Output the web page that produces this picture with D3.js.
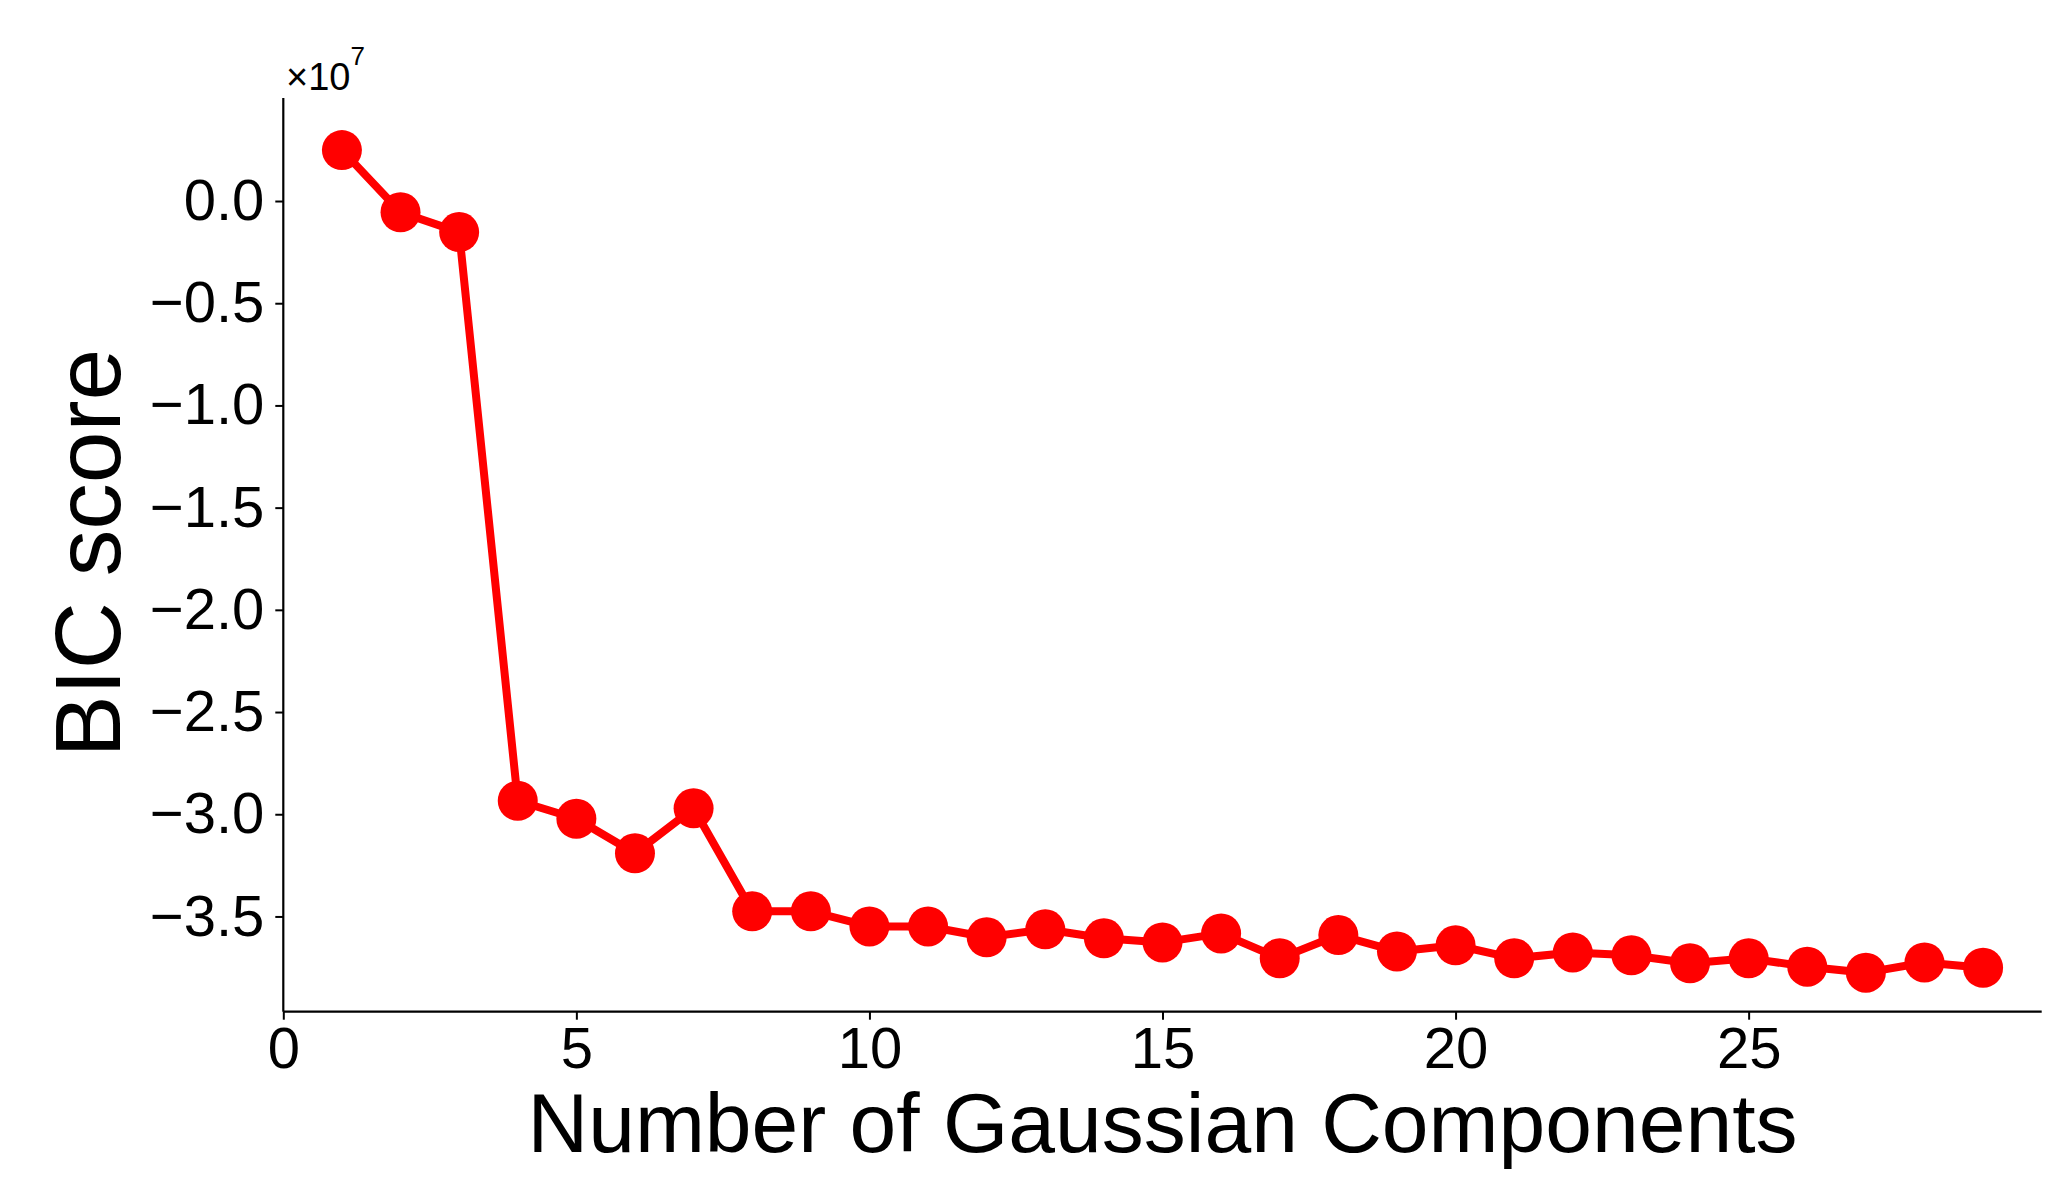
<!DOCTYPE html>
<html>
<head>
<meta charset="utf-8">
<script src="https://cdn.jsdelivr.net/npm/d3@7"></script>
<style>
  html, body { margin: 0; padding: 0; background: #ffffff; }
  svg { display: block; }
  text { font-family: "Liberation Sans", Arial, sans-serif; fill: #000; }
</style>
</head>
<body>
<svg id="chart" width="2063" height="1187"></svg>
<script>
// Data (BIC score in units of 1e7)
const components = [1,2,3,4,5,6,7,8,9,10,11,12,13,14,15,16,17,18,19,20,21,22,23,24,25,26,27,28,29];
const bicScores = [0.249,-0.055,-0.152,-2.934,-3.022,-3.191,-2.971,-3.475,-3.475,-3.549,-3.549,-3.602,-3.563,-3.607,-3.627,-3.583,-3.705,-3.591,-3.671,-3.641,-3.705,-3.676,-3.690,-3.729,-3.705,-3.746,-3.775,-3.725,-3.751];
const xTicks = [0,5,10,15,20,25];
const yTicks = [0.0,-0.5,-1.0,-1.5,-2.0,-2.5,-3.0,-3.5];
const xDomain = [0, 30];
const yDomain = [-3.966, 0.504];
const xLabel = "Number of Gaussian Components";
const yLabel = "BIC score";

(function () {
const svg = d3.select("#chart");
const mLeft = 283.3, mRight = 2041.7, mTop = 98, mBottom = 1011.7;

const x = d3.scaleLinear().domain(xDomain).range([mLeft, mRight]);
const y = d3.scaleLinear().domain(yDomain).range([mBottom, mTop]);

const fmt = v => (v < 0 ? "\u2212" : "") + Math.abs(v).toFixed(1);

// X axis
const xAxis = svg.append("g")
  .attr("transform", `translate(0,${mBottom})`)
  .call(d3.axisBottom(x).tickValues(xTicks).tickFormat(d3.format("d")).tickSize(8).tickPadding(7));
// Y axis
const yAxis = svg.append("g")
  .attr("transform", `translate(${mLeft},0)`)
  .call(d3.axisLeft(y).tickValues(yTicks).tickFormat(fmt).tickSize(8).tickPadding(11));

[xAxis, yAxis].forEach(g => {
  g.select(".domain").attr("stroke", "#000").attr("stroke-width", 2.2);
  g.selectAll(".tick line").attr("stroke", "#000").attr("stroke-width", 2);
  g.selectAll(".tick text").attr("font-size", 58).attr("font-family", "Liberation Sans, Arial, sans-serif").attr("fill", "#000");
});
xAxis.select(".domain").attr("d", `M${mLeft},0H${mRight}`);
yAxis.select(".domain").attr("d", `M0,${mTop}V${mBottom}`);
xAxis.selectAll(".tick text").attr("dy", "0.71em");

// Line
const line = d3.line().x((d, i) => x(components[i])).y(d => y(d));
svg.append("path")
  .datum(bicScores)
  .attr("d", line)
  .attr("fill", "none")
  .attr("stroke", "#ff0000")
  .attr("stroke-width", 8)
  .attr("stroke-linejoin", "round");

// Markers
svg.append("g").selectAll("circle")
  .data(bicScores)
  .join("circle")
  .attr("cx", (d, i) => x(components[i]))
  .attr("cy", d => y(d))
  .attr("r", 20)
  .attr("fill", "#ff0000");

// Offset text ×10^7
const off = svg.append("text")
  .attr("x", 286)
  .attr("y", 90)
  .attr("font-size", 38);
off.append("tspan").text("\u00d710");
off.append("tspan").attr("font-size", 26).attr("dy", -25).text("7");

// Axis labels
svg.append("text")
  .attr("x", (mLeft + mRight) / 2)
  .attr("y", 1152)
  .attr("text-anchor", "middle")
  .attr("font-size", 84)
  .text(xLabel);

svg.append("text")
  .attr("transform", `translate(120,553) rotate(-90)`)
  .attr("text-anchor", "middle")
  .attr("font-size", 93)
  .text(yLabel);
})();
</script>
</body>
</html>
